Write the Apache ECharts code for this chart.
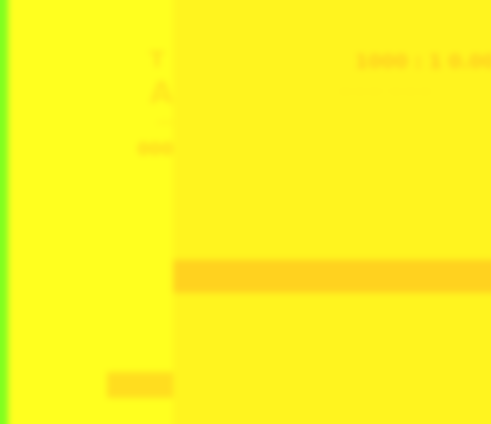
<!DOCTYPE html>
<html>
<head>
<meta charset="utf-8">
<script src="https://cdn.jsdelivr.net/npm/echarts@6/dist/echarts.min.js"></script>
<style>
  html, body { margin: 0; padding: 0; width: 491px; height: 424px; overflow: hidden; background: #fff41f; }
  #chart { position: absolute; left: -10px; top: -10px; width: 511px; height: 444px; filter: blur(3px); }
</style>
</head>
<body>
<div id="chart"></div>
<script>
// Data
const categories = ['c1', 'c2', 'c3', 'c4', 'c5', 'c6', 'c7', 'c8', 'c9', 'c10', 'c11'];
const rightValues = [null, null, null, null, null, null, null, 100, null, null, null];
const leftValues = [null, null, null, null, null, null, null, null, null, null, 40];
const titleText = '1000 : 1 0.00';
const subText = '— — — · — — —';
const sideLabels = ['T', 'A', '···', '000'];

const chart = echarts.init(document.getElementById('chart'));
const option = {
  backgroundColor: '#fff41f',
  animation: false,
  graphic: [
    { type: 'rect', z: -10, shape: { x: 0, y: 0, width: 18, height: 444 }, style: { fill: '#80ff1f' } },
    { type: 'rect', z: -10, shape: { x: 18, y: 0, width: 165, height: 444 }, style: { fill: '#ffff1f' } },
    { type: 'text', left: 365, top: 64, style: { text: titleText, fill: '#ffca1f', font: 'bold 19px "DejaVu Sans"' } },
    { type: 'text', left: 350, top: 96, style: { text: subText, fill: '#ffe41f', font: '11px "DejaVu Sans"' } },
    { type: 'text', x: 167, y: 60, style: { text: sideLabels[0], fill: '#ffe01f', font: 'bold 22px "DejaVu Sans"', align: 'center', verticalAlign: 'top' } },
    { type: 'text', x: 183, y: 90, style: { text: sideLabels[1], fill: '#ffe41f', font: 'bold 30px "DejaVu Sans"', align: 'right', verticalAlign: 'top' } },
    { type: 'text', x: 183, y: 127, style: { text: sideLabels[2], fill: '#ffe01f', font: 'bold 14px "DejaVu Sans"', align: 'right', verticalAlign: 'top' } },
    { type: 'text', x: 183, y: 152, style: { text: sideLabels[3], fill: '#ffd21f', font: 'bold 17px "DejaVu Sans"', align: 'right', verticalAlign: 'top' } }
  ],
  grid: [
    { left: 183, right: 0, top: 15, bottom: 31 },
    { left: 18, width: 165, top: 15, bottom: 31 }
  ],
  xAxis: [
    { gridIndex: 0, type: 'value', min: 0, max: 100, show: false },
    { gridIndex: 1, type: 'value', min: 0, max: 100, inverse: true, show: false }
  ],
  yAxis: [
    { gridIndex: 0, type: 'category', data: categories, inverse: true, show: false },
    { gridIndex: 1, type: 'category', data: categories, inverse: true, show: false }
  ],
  series: [
    { type: 'bar', xAxisIndex: 0, yAxisIndex: 0, data: rightValues, barWidth: 33, itemStyle: { color: '#ffd21f' } },
    { type: 'bar', xAxisIndex: 1, yAxisIndex: 1, data: leftValues, barWidth: 26, itemStyle: { color: '#ffdd1f' } }
  ]
};
chart.setOption(option);
</script>
</body>
</html>
